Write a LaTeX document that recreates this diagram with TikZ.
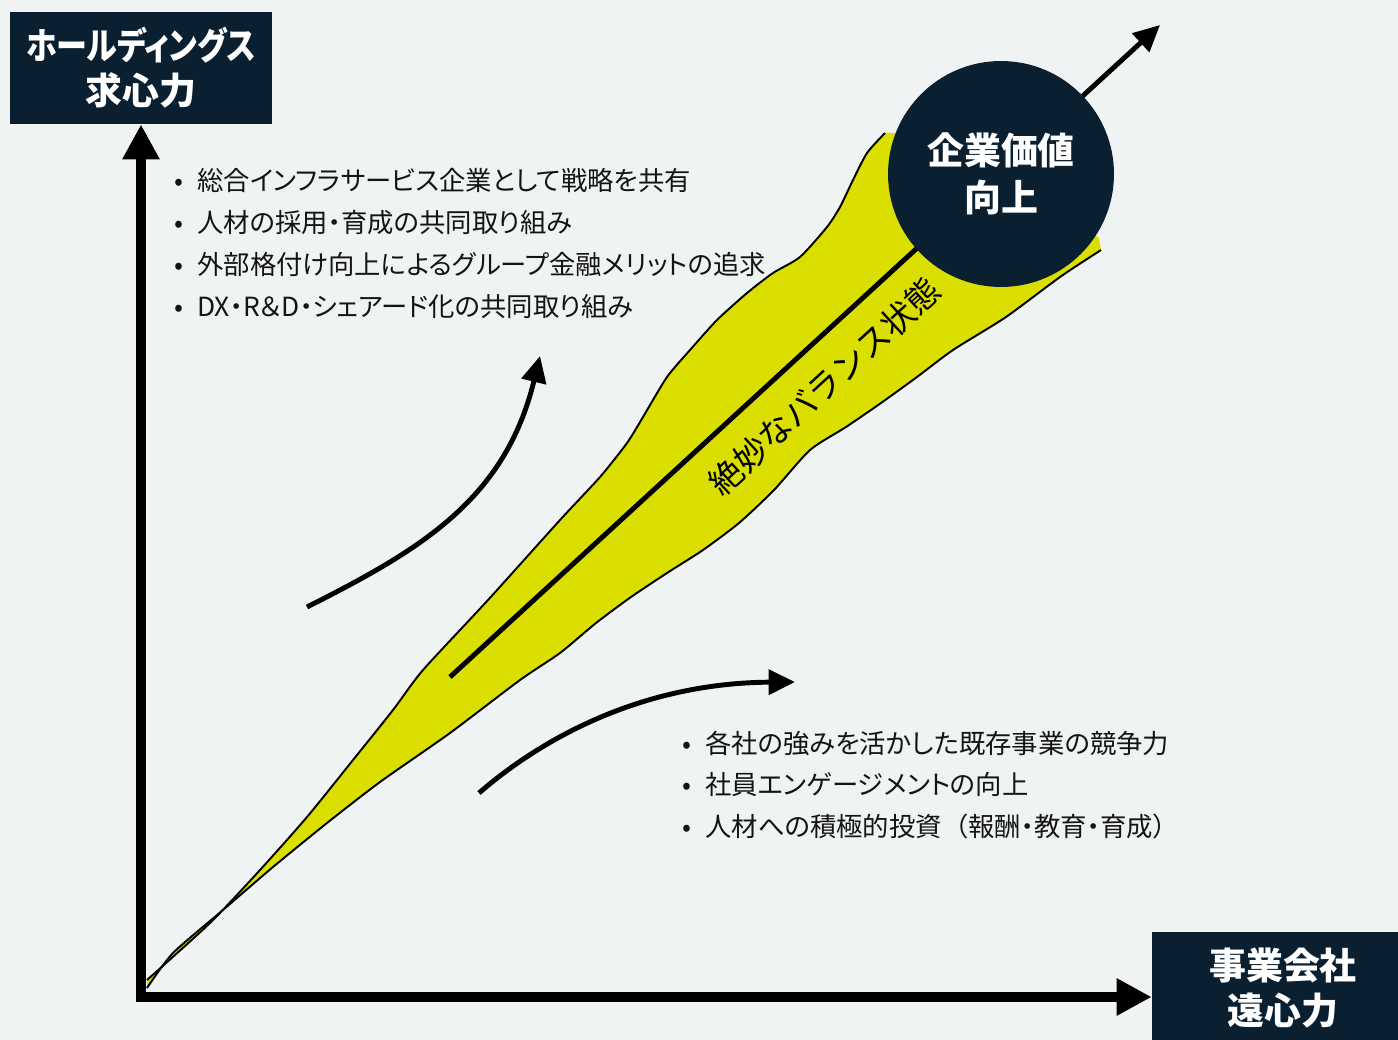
\documentclass[tikz,border=0pt]{standalone}
\usepackage{fontspec}
\setmainfont{Noto Sans CJK JP}
\newfontfamily\jpp[RawFeature=+palt]{Noto Sans CJK JP}
\newfontfamily\jpn[RawFeature=+palt, FakeStretch=0.84]{Noto Sans CJK JP}
\usetikzlibrary{arrows.meta}
\definecolor{bgc}{HTML}{F0F3F4}
\definecolor{navy}{HTML}{0A1F30}
\definecolor{lime}{HTML}{DADF00}
\definecolor{ink}{HTML}{141414}
\tikzset{
  axisline/.style={line width=6.2pt, line join=miter, {Triangle[length=20pt,width=20pt]}-{Triangle[length=20pt,width=20pt]}},
  axbox/.style={fill=navy, text=white, font=\bfseries\fontsize{21}{25.5}\selectfont, align=center, minimum width=5.24cm, minimum height=2.24cm, inner sep=0},
  goal/.style={circle, fill=navy, text=white, font=\bfseries\fontsize{21}{27}\selectfont, align=center, minimum size=4.52cm, inner sep=0},
  push/.style={line width=2.8pt, -{Triangle[length=15pt,width=14pt]}},
  rim/.style={line width=1.1pt},
  notes/.style={text=ink, font=\jpp\fontsize{15}{23.8}\selectfont, align=left, anchor=west, inner sep=0},
}
\newcommand\bl{\makebox[0.46cm][l]{•}}
\begin{document}
\begin{tikzpicture}[x=0.02cm, y=-0.02cm]
\clip (0,0) rectangle (1398,1040);
\fill[bgc] (0,0) rectangle (1398,1040);

% band
\fill[lime] plot[smooth, tension=0.4] coordinates {(147,980) (210,923) (260,870) (307,817) (353,760) (393,710) (423,670) (488,600) (560,520) (600,477) (627,443) (643,417) (667,377) (690,350) (717,320) (747,293) (773,273) (800,257) (827,227) (840,207) (853,180) (867,153) (885,133)}
  -- (950,133) -- (1099,238)
  -- plot[smooth, tension=0.4] coordinates {(1101,250) (1060,277) (1006,317) (953,350) (917,377) (881,403) (846,427) (810,450) (774,490) (739,523) (703,550) (667,573) (631,597) (596,623) (560,653) (520,680) (450,733) (380,782) (327,823) (273,867) (223,910) (173,953) (147,988)} -- cycle;
\draw[rim] plot[smooth, tension=0.4] coordinates {(147,980) (210,923) (260,870) (307,817) (353,760) (393,710) (423,670) (488,600) (560,520) (600,477) (627,443) (643,417) (667,377) (690,350) (717,320) (747,293) (773,273) (800,257) (827,227) (840,207) (853,180) (867,153) (885,133)};
\draw[rim] plot[smooth, tension=0.4] coordinates {(1101,250) (1060,277) (1006,317) (953,350) (917,377) (881,403) (846,427) (810,450) (774,490) (739,523) (703,550) (667,573) (631,597) (596,623) (560,653) (520,680) (450,733) (380,782) (327,823) (273,867) (223,910) (173,953) (147,988)};

\coordinate (o) at (141,997);
\coordinate (bal-s) at (450,677);
\coordinate (bal-e) at (1160,25);
\draw[line width=2.8pt, -{Triangle[length=15pt,width=14pt]}] (bal-s) -- (bal-e)
  node[pos=0.49, sloped, below=12pt, inner sep=0, font=\fontsize{19}{19}\selectfont] (bal) {絶妙なバランス状態};

\node[goal] (kigyo) at (1001,174) {企業価値\\向上};

% axes
\node[axbox] (hd) at (141,68) {{\jpn ホールディングス}\\求心力};
\node[axbox] (op) at (1283,988) {事業会社\\遠心力};
\draw[axisline] (hd.south) -- (o) -- (o -| op.west);

% forces
\coordinate (up-s) at (307,607);
\coordinate (up-e) at (540,356);
\draw[push] (up-s) .. controls (420,550) and (505,500) .. (up-e);
\coordinate (rt-s) at (479,793);
\coordinate (rt-e) at (795,682);
\draw[push] (rt-s) .. controls (540,740) and (640,683) .. (rt-e);

\node[notes] (hd-notes) at (174,243.5) {\bl 総合インフラサービス企業として戦略を共有\\
  \bl 人材の採用・育成の共同取り組み\\
  \bl 外部格付け向上によるグループ金融メリットの追求\\
  \bl DX・R＆D・シェアード化の共同取り組み};
\node[notes] (op-notes) at (682,785) {\bl 各社の強みを活かした既存事業の競争力\\
  \bl 社員エンゲージメントの向上\\
  \bl 人材への積極的投資{\normalfont （}報酬・教育・育成{\normalfont ）}};
\end{tikzpicture}
\end{document}
